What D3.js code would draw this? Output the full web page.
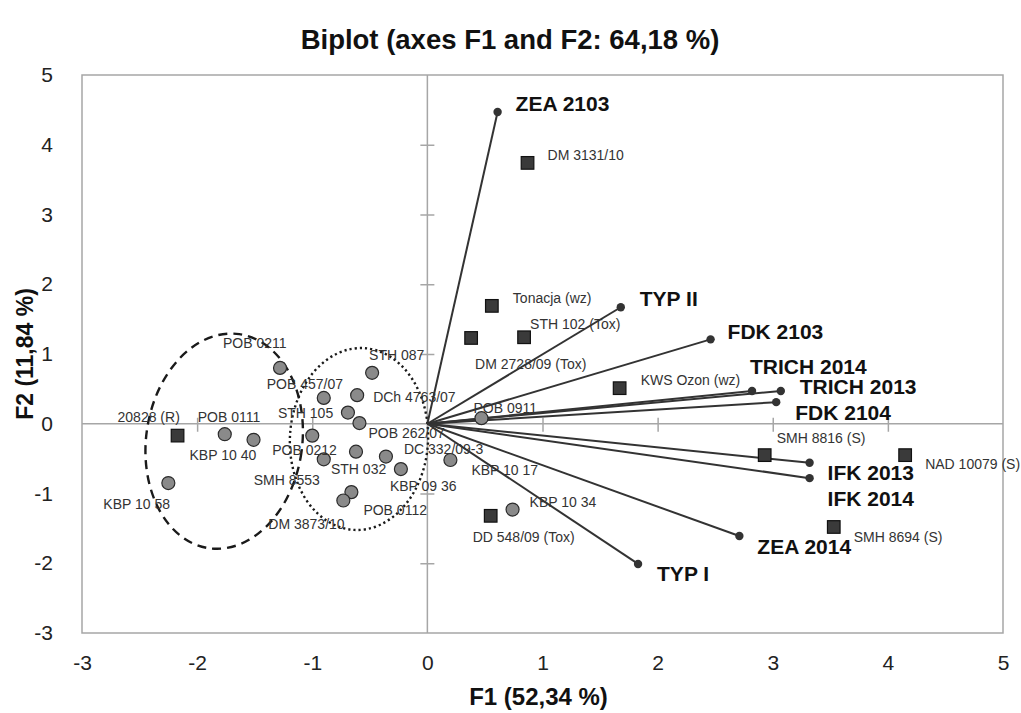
<!DOCTYPE html>
<html><head><meta charset="utf-8">
<script src="https://cdn.jsdelivr.net/npm/d3@7"></script>
<style>
body{margin:0;background:#fff;}
svg{display:block;font-family:"Liberation Sans",Arial,sans-serif;}
</style></head>
<body><svg id="c" width="1021" height="713"></svg>
<script>
// ---- data ----
const titleText = "Biplot (axes F1 and F2: 64,18 %)";
const xTitle = "F1 (52,34 %)";
const yTitle = "F2 (11,84 %)";
const xTicks = [-3,-2,-1,0,1,2,3,4,5];
const yTicks = [-3,-2,-1,0,1,2,3,4,5];

// variables (vectors)
const varNames = ["ZEA 2103","TYP II","FDK 2103","TRICH 2014","TRICH 2013","FDK 2104","IFK 2013","IFK 2014","ZEA 2014","TYP I"];
const varF1 = [0.61,1.68,2.46,2.82,3.07,3.03,3.32,3.32,2.71,1.83];
const varF2 = [4.47,1.67,1.21,0.47,0.47,0.31,-0.56,-0.78,-1.61,-2.01];

// observations – squares
const sqNames = ["20828 (R)","DM 3131/10","Tonacja (wz)","STH 102 (Tox)","DM 2728/09 (Tox)","KWS Ozon (wz)","SMH 8816 (S)","NAD 10079 (S)","SMH 8694 (S)","DD 548/09 (Tox)"];
const sqF1 = [-2.17,0.87,0.56,0.84,0.38,1.67,2.93,4.15,3.53,0.55];
const sqF2 = [-0.17,3.74,1.69,1.24,1.23,0.51,-0.45,-0.45,-1.48,-1.32];

// observations – circles
const ciNames = ["POB 0211","POB 0111","KBP 10 40","KBP 10 58","POB 457/07","STH 087","DCh 4763/07","STH 105","POB 262/07","POB 0212","SMH 8553","STH 032","DC 332/09-3","KBP 09 36","KBP 10 17","POB 0112","DM 3873/10","KBP 10 34","POB 0911"];
const ciF1 = [-1.28,-1.76,-1.51,-2.25,-0.90,-0.48,-0.61,-0.69,-0.59,-1.00,-0.90,-0.62,-0.36,-0.23,0.20,-0.66,-0.73,0.74,0.47];
const ciF2 = [0.80,-0.15,-0.23,-0.85,0.37,0.73,0.41,0.16,0.01,-0.17,-0.51,-0.40,-0.47,-0.65,-0.52,-0.98,-1.10,-1.23,0.08];

// group ellipses (centre, semi-axes in data units)
const ellCx = [-1.765,-0.594];
const ellCy = [-0.25,-0.219];
const ellRx = [0.678,0.60];
const ellRy = [1.55,1.305];

// ---- layout (pixel label offsets, styles) ----
const varLabelOff = [[18,-9],[19,-9],[17,-8],[-2,-25],[19,-5],[19,10],[18,10],[18,20],[18,10],[19,9]];
const sqLabelOff = [[-60,-19],[20,-8],[21,-8],[6,-13],[4,26],[21,-8],[12,-17],[20,9],[20,10],[-18,21]];
const ciLabelOff = [[-57,-25],[-27,-17],[-64,15],[-65,21],[-57,-14],[-3,-18],[16,2],[-70,1],[9,10],[-40,14],[-70,21],[-25,17],[18,-7],[-11,17],[21,10],[12,18],[-75,24],[17,-7],[-8,-10]];
const ellRot = [8,3];
const ellDash = ["9,6","2.2,3"];

const svg = d3.select("#c");
const L=82,R=1003,T=75,B=633;
const x = d3.scaleLinear().domain([-3,5]).range([L,R]);
const y = d3.scaleLinear().domain([-3,5]).range([B,T]);
const grey="#a6a6a6";
const fmt = d => String(d); // plain hyphen-minus as in the original

// frame
svg.append("rect").attr("x",L).attr("y",T).attr("width",R-L).attr("height",B-T)
  .attr("fill","none").attr("stroke",grey).attr("stroke-width",1.5);
// zero axes
svg.append("line").attr("x1",L).attr("x2",R).attr("y1",y(0)).attr("y2",y(0)).attr("stroke",grey).attr("stroke-width",1.5);
svg.append("line").attr("y1",T).attr("y2",B).attr("x1",x(0)).attr("x2",x(0)).attr("stroke",grey).attr("stroke-width",1.5);
// ticks on zero axes
const xAx = d3.axisBottom(x).tickValues(xTicks.filter(d=>d>-3&&d<5&&d!==0)).tickSize(14).tickFormat("");
svg.append("g").attr("transform",`translate(0,${y(0)-6})`).call(xAx)
  .call(g=>{g.select(".domain").remove(); g.selectAll("line").attr("stroke",grey).attr("stroke-width",1.5);});
const yAx = d3.axisLeft(y).tickValues(yTicks.filter(d=>d>-3&&d<5&&d!==0)).tickSize(14).tickFormat("");
svg.append("g").attr("transform",`translate(${x(0)+7},0)`).call(yAx)
  .call(g=>{g.select(".domain").remove(); g.selectAll("line").attr("stroke",grey).attr("stroke-width",1.5);});

// tick labels
const xLab = d3.axisBottom(x).tickValues(xTicks).tickSize(0).tickPadding(0).tickFormat(fmt);
svg.append("g").attr("transform",`translate(0,${B+22})`).call(xLab)
  .call(g=>{g.select(".domain").remove(); g.selectAll("text").attr("font-size",21).attr("fill","#222").attr("font-family","Liberation Sans, Arial");});
const yLab = d3.axisLeft(y).tickValues(yTicks).tickSize(0).tickPadding(0).tickFormat(fmt);
svg.append("g").attr("transform",`translate(${L-29},0)`).call(yLab)
  .call(g=>{g.select(".domain").remove(); g.selectAll("text").attr("font-size",21).attr("fill","#222").attr("font-family","Liberation Sans, Arial");});

// titles
svg.append("text").attr("x",510).attr("y",49).attr("text-anchor","middle")
  .attr("font-size",27.5).attr("font-weight","bold").attr("fill","#111").text(titleText);
svg.append("text").attr("x",(L+R)/2-4).attr("y",705).attr("text-anchor","middle")
  .attr("font-size",24).attr("font-weight","bold").attr("fill","#111").text(xTitle);
svg.append("text").attr("transform",`translate(33,${(T+B)/2}) rotate(-90)`).attr("text-anchor","middle")
  .attr("font-size",23).attr("font-weight","bold").attr("fill","#111").text(yTitle);

// ellipses
ellCx.forEach((cx,i)=>{
  const pcx=x(cx), pcy=y(ellCy[i]);
  const rx=x(ellRx[i])-x(0), ry=y(0)-y(ellRy[i]);
  svg.append("ellipse").attr("cx",0).attr("cy",0).attr("rx",rx).attr("ry",ry)
    .attr("transform",`translate(${pcx},${pcy}) rotate(${ellRot[i]})`)
    .attr("fill","none").attr("stroke","#1a1a1a").attr("stroke-width",2.4)
    .attr("stroke-dasharray",ellDash[i]);
});

// vectors
const vars = varNames.map((n,i)=>({n,f1:varF1[i],f2:varF2[i],o:varLabelOff[i]}));
svg.append("g").selectAll("line").data(vars).join("line")
  .attr("x1",x(0)).attr("y1",y(0)).attr("x2",d=>x(d.f1)).attr("y2",d=>y(d.f2))
  .attr("stroke","#333").attr("stroke-width",2);
svg.append("g").selectAll("circle").data(vars).join("circle")
  .attr("cx",d=>x(d.f1)).attr("cy",d=>y(d.f2)).attr("r",4.2).attr("fill","#333");

// circles
const circ = ciNames.map((n,i)=>({n,f1:ciF1[i],f2:ciF2[i],o:ciLabelOff[i]}));
svg.append("g").selectAll("circle").data(circ).join("circle")
  .attr("cx",d=>x(d.f1)).attr("cy",d=>y(d.f2)).attr("r",6.5)
  .attr("fill","#8a8a8a").attr("stroke","#2b2b2b").attr("stroke-width",1.2);
// squares
const sq = sqNames.map((n,i)=>({n,f1:sqF1[i],f2:sqF2[i],o:sqLabelOff[i]}));
svg.append("g").selectAll("rect").data(sq).join("rect")
  .attr("x",d=>x(d.f1)-6.3).attr("y",d=>y(d.f2)-6.3).attr("width",12.6).attr("height",12.6)
  .attr("fill","#3a3a3a").attr("stroke","#111").attr("stroke-width",1.2);

// observation labels
svg.append("g").selectAll("text").data(circ.concat(sq)).join("text")
  .attr("x",d=>x(d.f1)+d.o[0]).attr("y",d=>y(d.f2)+d.o[1]).attr("dy","0.35em")
  .attr("font-size",14).attr("fill","#333").text(d=>d.n);
// variable labels
svg.append("g").selectAll("text").data(vars).join("text")
  .attr("x",d=>x(d.f1)+d.o[0]).attr("y",d=>y(d.f2)+d.o[1]).attr("dy","0.36em")
  .attr("font-size",21).attr("font-weight","bold").attr("fill","#111").text(d=>d.n);
</script></body></html>
